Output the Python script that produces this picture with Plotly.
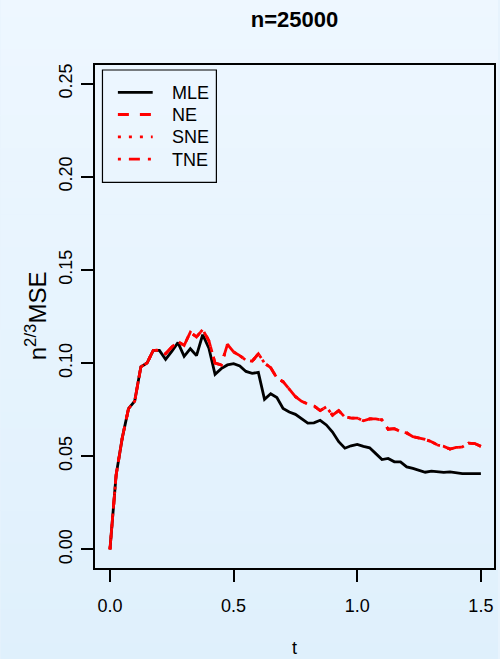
import numpy as np
import plotly.graph_objects as go

# ---- data ----
t = np.round(np.linspace(0, 1.5, 61), 3)

mle = [0.0, 0.040, 0.060, 0.0755, 0.0795, 0.098, 0.100, 0.1068, 0.1068, 0.102,
       0.1063, 0.111, 0.1036, 0.1077, 0.104, 0.1152, 0.108, 0.094, 0.097, 0.099,
       0.0997, 0.0985, 0.0955, 0.0945, 0.095, 0.0805, 0.0835, 0.0815, 0.0756, 0.0737,
       0.0725, 0.070, 0.0678, 0.0679, 0.0693, 0.0668, 0.063, 0.0578, 0.0543, 0.0556,
       0.0563, 0.0553, 0.0545, 0.0514, 0.0482, 0.0488, 0.047, 0.047, 0.0443, 0.0435,
       0.0425, 0.0414, 0.042, 0.0415, 0.0413, 0.0416, 0.0411, 0.0407, 0.0407, 0.0407,
       0.0407]

ne = [0.0, 0.040, 0.060, 0.0755, 0.0795, 0.098, 0.100, 0.1068, 0.107, 0.105,
      0.1086, 0.1116, 0.1095, 0.1166, 0.114, 0.118, 0.112, 0.100, 0.099, 0.110,
      0.106, 0.104, 0.1015, 0.101, 0.105, 0.100, 0.0975, 0.092, 0.090, 0.0857,
      0.082, 0.0795, 0.078, 0.077, 0.0745, 0.0765, 0.072, 0.0745, 0.071, 0.0705,
      0.0705, 0.069, 0.070, 0.070, 0.0695, 0.0645, 0.0648, 0.0632, 0.0625, 0.0605,
      0.0598, 0.059, 0.0578, 0.056, 0.0553, 0.0538, 0.0547, 0.055, 0.057, 0.0568,
      0.0553]
sne = list(ne)
tne = list(ne)

series_names = ["MLE", "NE", "SNE", "TNE"]
series_vals = [mle, ne, sne, tne]
series_colors = ["black", "red", "red", "red"]
series_dash = ["solid", "11px,11px", "3px,8px", "3px,8px,11px,8px"]

x_ticks = [0, 0.5, 1.0, 1.5]
x_ticktext = ["0.0", "0.5", "1.0", "1.5"]
y_ticks = [0, 0.05, 0.10, 0.15, 0.20, 0.25]
y_ticktext = ["0.00", "0.05", "0.10", "0.15", "0.20", "0.25"]

FONT = "Liberation Sans, Arial, Helvetica, sans-serif"
W, H = 500, 659
ML, MR, MT, MB = 95, 4, 65, 91
PW, PH = W - ML - MR, H - MT - MB


def px_x(p):
    return (p - ML) / PW


def px_y(p):
    return (H - MB - p) / PH


fig = go.Figure()
for name, vals, col, dsh in zip(series_names, series_vals, series_colors, series_dash):
    fig.add_trace(go.Scatter(x=t, y=vals, mode="lines", name=name,
                             line=dict(color=col, width=2.8, dash=dsh),
                             showlegend=False))

shapes = []
# vertical background gradient
nb = 40
top = np.array([238, 247, 255])
bot = np.array([223, 240, 252])
for i in range(nb):
    f = (i + 0.5) / nb
    c = top + (bot - top) * f
    y1p = H * i / nb
    y2p = H * (i + 1) / nb + 0.5
    shapes.append(dict(type="rect", xref="paper", yref="paper", layer="below",
                       x0=px_x(0), x1=px_x(W), y0=px_y(y2p), y1=px_y(y1p),
                       line=dict(width=0),
                       fillcolor="rgb(%d,%d,%d)" % tuple(np.round(c).astype(int))))

# legend box
shapes.append(dict(type="rect", xref="paper", yref="paper",
                   x0=px_x(102.5), x1=px_x(217), y0=px_y(182.3), y1=px_y(70),
                   line=dict(color="black", width=1.2)))
leg_y = [92.3, 114.5, 136.8, 159.2]
annotations = []
for name, col, dsh, yy in zip(series_names, series_colors, series_dash, leg_y):
    shapes.append(dict(type="line", xref="paper", yref="paper",
                       x0=px_x(118), x1=px_x(153), y0=px_y(yy), y1=px_y(yy),
                       line=dict(color=col, width=2.8, dash=dsh)))
    annotations.append(dict(text=name, xref="paper", yref="paper",
                            x=px_x(170), y=px_y(yy + 0.5), xanchor="left", yanchor="middle",
                            showarrow=False, font=dict(size=18, color="black", family=FONT)))

annotations.append(dict(text="n<sup>2/3</sup>MSE", xref="paper", yref="paper",
                        x=px_x(36), y=px_y(316), xanchor="center", yanchor="middle",
                        textangle=-90, showarrow=False,
                        font=dict(size=24, color="black", family=FONT)))
annotations.append(dict(text="t", xref="paper", yref="paper",
                        x=0.5, y=px_y(648), xanchor="center", yanchor="middle",
                        showarrow=False, font=dict(size=18, color="black", family=FONT)))

fig.update_layout(
    width=W, height=H,
    margin=dict(l=ML, r=MR, t=MT, b=MB),
    paper_bgcolor="rgb(231,243,253)",
    plot_bgcolor="rgba(0,0,0,0)",
    title=dict(text="<b>n=25000</b>", x=0.5, xref="paper", xanchor="center",
               y=1 - 19 / H, yref="container", yanchor="middle",
               font=dict(size=22, color="black", family=FONT)),
    font=dict(family=FONT, size=18, color="black"),
    shapes=shapes,
    annotations=annotations,
    xaxis=dict(range=[-0.0605, 1.553], tickmode="array", tickvals=x_ticks, ticktext=x_ticktext,
               showgrid=False, zeroline=False, showline=True, mirror=True,
               linecolor="black", linewidth=1.5, ticks="outside", ticklen=12,
               tickwidth=1.5, tickcolor="black", ticklabelstandoff=9,
               tickfont=dict(size=18, color="black", family=FONT)),
    yaxis=dict(range=[-0.01, 0.26], tickmode="array", tickvals=y_ticks, ticktext=y_ticktext,
               showgrid=False, zeroline=False, showline=True, mirror=True,
               linecolor="black", linewidth=1.5, ticks="outside", ticklen=12,
               tickwidth=1.5, tickcolor="black", tickangle=-90, ticklabelstandoff=2,
               tickfont=dict(size=18, color="black", family=FONT)),
)

fig.write_html("out.html")
